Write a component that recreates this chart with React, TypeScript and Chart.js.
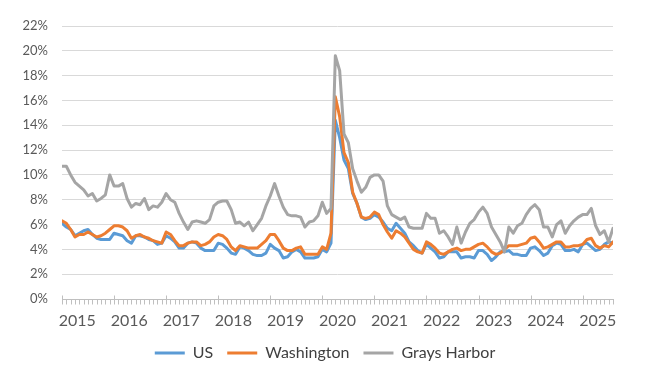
import React, { useEffect, useRef } from "react";
import { Chart, registerables } from "chart.js";

Chart.register(...registerables);

// Monthly, Jan 2015 .. Aug 2025 (index 0 = Jan 2015)
const yearLabels = ["2015", "2016", "2017", "2018", "2019", "2020", "2021", "2022", "2023", "2024", "2025"];
const seriesNames = ["US", "Washington", "Grays Harbor"];

const usRate = [
  6.1, 5.8, 5.6, 5.1, 5.3, 5.5, 5.6, 5.2, 4.9, 4.8, 4.8, 4.8,
  5.3, 5.2, 5.1, 4.7, 4.5, 5.1, 5.1, 5.0, 4.8, 4.7, 4.4, 4.5,
  5.1, 4.9, 4.6, 4.1, 4.1, 4.5, 4.6, 4.5, 4.1, 3.9, 3.9, 3.9,
  4.5, 4.4, 4.1, 3.7, 3.6, 4.2, 4.1, 3.9, 3.6, 3.5, 3.5, 3.7,
  4.4, 4.1, 3.9, 3.3, 3.4, 3.8, 4.0, 3.8, 3.3, 3.3, 3.3, 3.4,
  4.0, 3.8, 4.5, 14.4, 13.0, 11.2, 10.5, 8.5, 7.7, 6.6, 6.4, 6.5,
  6.8, 6.6, 6.2, 5.7, 5.5, 6.1, 5.7, 5.3, 4.6, 4.3, 3.9, 3.7,
  4.4, 4.1, 3.8, 3.3, 3.4, 3.8, 3.8, 3.8, 3.3, 3.4, 3.4, 3.3,
  3.9, 3.9, 3.6, 3.1, 3.4, 3.8, 3.8, 3.9, 3.6, 3.6, 3.5, 3.5,
  4.1, 4.2, 3.9, 3.5, 3.7, 4.3, 4.5, 4.4, 3.9, 3.9, 4.0, 3.8,
  4.4, 4.5, 4.2, 3.9, 4.0, 4.4, 4.6, 4.5,
];

const waRate = [
  6.3, 6.1, 5.6, 5.0, 5.2, 5.2, 5.4, 5.2, 5.0, 5.1, 5.3, 5.6,
  5.9, 5.9, 5.8, 5.5, 4.9, 5.1, 5.2, 5.0, 4.9, 4.7, 4.6, 4.5,
  5.4, 5.2, 4.7, 4.3, 4.3, 4.5, 4.6, 4.6, 4.3, 4.4, 4.6, 5.0,
  5.2, 5.1, 4.8, 4.2, 3.9, 4.3, 4.2, 4.1, 4.1, 4.1, 4.4, 4.7,
  5.2, 5.2, 4.7, 4.1, 3.9, 3.9, 4.1, 4.2, 3.6, 3.6, 3.6, 3.6,
  4.2, 4.0, 5.3, 16.3, 14.7, 11.8, 11.0, 8.6, 7.7, 6.6, 6.5, 6.6,
  7.0, 6.8, 6.0, 5.4, 4.9, 5.5, 5.3, 5.0, 4.5, 4.0, 3.8, 3.7,
  4.6, 4.4, 4.1, 3.7, 3.6, 3.8, 4.0, 4.1, 3.9, 4.0, 4.0, 4.2,
  4.4, 4.5, 4.2, 3.8, 3.6, 3.7, 4.0, 4.3, 4.3, 4.3, 4.4, 4.5,
  4.9, 5.0, 4.6, 4.1, 4.2, 4.4, 4.6, 4.6, 4.2, 4.2, 4.3, 4.3,
  4.4, 4.8, 4.9, 4.3, 4.1, 4.3, 4.2, 4.6,
];

const ghRate = [
  10.7, 10.7, 10.0, 9.4, 9.1, 8.8, 8.3, 8.5, 7.9, 8.1, 8.4, 10.0,
  9.1, 9.1, 9.3, 8.1, 7.4, 7.7, 7.6, 8.1, 7.2, 7.5, 7.4, 7.8,
  8.5, 8.0, 7.8, 6.9, 6.2, 5.6, 6.2, 6.3, 6.2, 6.1, 6.4, 7.5,
  7.8, 7.9, 7.9, 7.2, 6.1, 6.2, 5.9, 6.2, 5.5, 6.0, 6.5, 7.5,
  8.3, 9.3, 8.3, 7.4, 6.8, 6.7, 6.7, 6.6, 5.8, 6.2, 6.3, 6.7,
  7.8, 6.9, 7.3, 19.6, 18.4, 13.3, 12.6, 10.5, 9.5, 8.6, 9.0, 9.8,
  10.0, 10.0, 9.5, 7.5, 6.8, 6.6, 6.4, 6.6, 5.8, 5.7, 5.7, 5.7,
  6.9, 6.5, 6.5, 5.3, 5.5, 5.0, 4.4, 5.8, 4.5, 5.4, 6.1, 6.4,
  7.0, 7.4, 6.9, 5.8, 5.2, 4.6, 3.8, 5.8, 5.3, 5.9, 6.1, 6.8,
  7.3, 7.6, 7.2, 5.8, 5.8, 5.0, 6.0, 6.3, 5.3, 5.9, 6.3, 6.6,
  6.8, 6.8, 7.3, 5.9, 5.2, 5.5, 4.6, 5.7,
];

const seriesColors = ["#5B9BD5", "#ED7D31", "#A5A5A5"];
const yMax = 22;
const yStep = 2;
const monthsPerYear = 12;
const labelOffsetMonths = 3.5;

const toPoints = (arr: number[]) => arr.map((v, i) => ({ x: i, y: v }));

const tickMarks = {
  id: "tickMarks",
  beforeDatasetsDraw(chart: any) {
    const xs = chart.scales.x;
    const ctx = chart.ctx;
    const y0 = Math.round(xs.top) + 0.5;
    ctx.save();
    ctx.strokeStyle = "#bfbfbf";
    ctx.lineWidth = 1;
    for (let i = 0; i < usRate.length; i++) {
      const px = Math.round(xs.getPixelForValue(i)) + 0.5;
      const major = i % monthsPerYear === 0;
      ctx.beginPath();
      ctx.moveTo(px, major ? y0 - 4 : y0);
      ctx.lineTo(px, y0 + 5);
      ctx.stroke();
    }
    ctx.restore();
  },
};

export default function App() {
  const ref = useRef<HTMLCanvasElement>(null);

  useEffect(() => {
    document.body.style.margin = "0";
    const rates = [usRate, waRate, ghRate];
    const chart = new Chart(ref.current as HTMLCanvasElement, {
      type: "line",
      data: {
        datasets: seriesNames.map((name, k) => ({
          label: name,
          data: toPoints(rates[k]),
          borderColor: seriesColors[k],
          backgroundColor: seriesColors[k],
          borderWidth: 3,
          pointRadius: 0,
          tension: 0,
          borderJoinStyle: "round" as const,
          borderCapStyle: "round" as const,
          order: 3 - k,
        })),
      },
      options: {
        animation: false,
        responsive: true,
        maintainAspectRatio: false,
        layout: { padding: { top: 26, right: 0, bottom: 7, left: 0 } },
        plugins: {
          tooltip: { enabled: false },
          legend: {
            position: "bottom",
            labels: {
              boxWidth: 30,
              boxHeight: 3,
              padding: 14,
              color: "#404040",
              font: { family: "Lato", size: 16 },
              sort: (a: any, b: any) => a.datasetIndex - b.datasetIndex,
              generateLabels: (chart: any) =>
                Chart.defaults.plugins.legend.labels
                  .generateLabels(chart)
                  .map((item: any) => ({ ...item, lineWidth: 0 })),
            },
          },
        },
        scales: {
          x: {
            type: "linear",
            min: 0,
            max: usRate.length - 1,
            grid: { display: false, drawTicks: false },
            border: { display: true, color: "#bfbfbf", width: 1 },
            afterBuildTicks: (scale: any) => {
              scale.ticks = yearLabels.map((_, k) => ({ value: k * monthsPerYear + labelOffsetMonths }));
            },
            afterFit: (scale: any) => {
              scale.height = 32;
            },
            ticks: {
              autoSkip: false,
              maxRotation: 0,
              padding: 12,
              color: "#595959",
              font: { family: "Lato", size: 16 },
              callback: (value: any) => yearLabels[Math.floor(Number(value) / monthsPerYear)],
            },
          },
          y: {
            min: 0,
            max: yMax,
            grid: { color: "#d9d9d9", lineWidth: 1, drawTicks: false },
            border: { display: false },
            afterFit: (scale: any) => {
              scale.width = 62;
            },
            ticks: {
              stepSize: yStep,
              padding: 14,
              color: "#595959",
              font: { family: "Lato", size: 13 },
              callback: (value: any) => `${value}%`,
            },
          },
          yRight: {
            position: "right",
            min: 0,
            max: yMax,
            grid: { display: false, drawTicks: false },
            border: { display: false },
            ticks: { display: false },
            afterFit: (scale: any) => {
              scale.width = 37;
            },
          },
        },
      },
      plugins: [tickMarks],
    });
    return () => chart.destroy();
  }, []);

  return (
    <div style={{ position: "relative", width: 650, height: 378 }}>
      <canvas ref={ref} />
    </div>
  );
}
